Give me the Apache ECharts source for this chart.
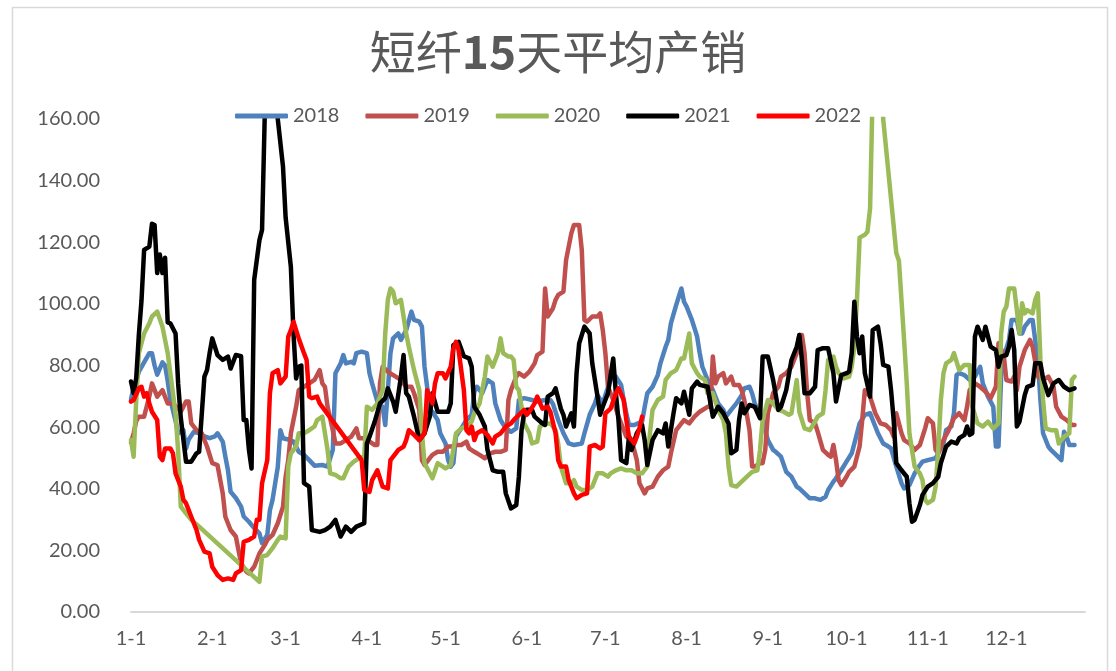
<!DOCTYPE html>
<html>
<head>
<meta charset="utf-8">
<title>短纤15天平均产销</title>
<script src="https://cdn.jsdelivr.net/npm/echarts@6/dist/echarts.min.js"></script>
<style>
  html, body { margin: 0; padding: 0; background: #ffffff; }
  #chart { width: 1116px; height: 671px; }
</style>
</head>
<body>
<div id="chart"></div>
<script>
// Month-start positions (day of year) and their labels on the horizontal axis
const monthStartDays = [0, 31, 59, 90, 120, 151, 181, 212, 243, 273, 304, 334];
const monthLabels = ['1-1', '2-1', '3-1', '4-1', '5-1', '6-1', '7-1', '8-1', '9-1', '10-1', '11-1', '12-1'];

const seriesNames = ['2018', '2019', '2020', '2021', '2022'];

// 15-day average sell-through, as [day of year, value]
const sales2018 = [[0,69],[1,73],[2,75],[3,78],[5,81],[7,84],[8,84],[9,80],[10,77],[12,81],[13,80],[14,75],[15,69],[17,62],[18,58],[20,59],[21,53],[22,56],[24,58.5],[26,58],[28,57],[30,56.4],[32,57],[33,58],[35,55.3],[36,50.4],[37,46],[38,39],[40,37],[42,34.2],[43,31],[45,29.3],[47,27.2],[49,25.5],[50,22.3],[52,25],[53,33],[54,36.4],[56,47],[57,59],[58,56.4],[60,56],[62,55.3],[64,52],[66,51],[68,49.3],[70,47.5],[73,47.7],[75,47.2],[77,52.6],[78,77.5],[80,80.7],[81,83.4],[82,80.7],[84,81.2],[85,80.7],[86,84],[88,84.5],[90,84],[91,77.5],[92,74.2],[94,68.3],[96,66.6],[97,60.7],[98,72],[99,84],[100,88.8],[102,90.4],[103,88.3],[105,91.5],[107,97.5],[108,94.8],[110,94.2],[111,92.6],[112,79.6],[113,73],[114,65.6],[115,65],[117,62.3],[118,58],[120,54.7],[121,49.3],[122,47.2],[123,48.3],[124,57],[126,59.6],[128,62.3],[130,64],[131,71.5],[132,73.1],[134,71],[136,75.3],[138,74.2],[139,67.7],[141,62.3],[143,59.6],[145,58.5],[147,59.6],[148,68.8],[150,69.4],[153,68.8],[155,68.3],[158,68.8],[160,68.8],[161,67.5],[163,62.3],[165,58],[167,54.7],[169,54.2],[172,54.7],[173,58],[175,64],[177,67.7],[178,70.4],[180,67.7],[181,70.4],[183,75.3],[185,76.4],[187,73.7],[188,68.8],[189,64.5],[190,60.7],[192,60.7],[195,61.8],[196,66.6],[197,71],[199,73.1],[201,76.9],[202,80.7],[204,86.1],[205,88.3],[206,93.7],[208,99.6],[209,102.3],[210,105],[211,100.7],[212,99.1],[214,94.8],[216,89.4],[217,84],[218,79.6],[220,75.3],[222,72],[224,67.7],[226,65.6],[227,63.4],[229,65.6],[231,67.7],[233,70.4],[234,72.6],[236,73.1],[237,70.9],[238,67.7],[240,64],[241,62.3],[242,59],[243,55.8],[245,52.6],[246,52],[248,50.4],[250,45.5],[252,43.9],[254,40.7],[255,40.1],[257,38.5],[259,36.9],[261,36.9],[263,36.4],[265,37.4],[266,39.6],[268,42.3],[269,43.4],[271,46],[273,48.8],[275,51.5],[276,54.7],[278,61.2],[280,64],[282,64.5],[283,62.3],[285,58],[287,54.7],[289,53.7],[290,53.1],[292,47.2],[294,41.8],[295,40.1],[297,41.2],[299,45],[301,47.7],[302,48.8],[304,49.3],[307,49.9],[308,51.5],[310,54.7],[311,59],[313,60.2],[314,64.5],[315,76.9],[316,77.5],[318,76.9],[320,75.3],[322,76.4],[324,79.6],[325,74.2],[327,69.9],[329,66.6],[330,53.7],[331,53.7],[332,76.4],[333,82.9],[335,88.3],[336,94.8],[338,94.8],[339,90.4],[340,90.4],[341,92.6],[343,94.8],[344,94.8],[346,81.8],[347,68.8],[348,58],[350,53.7],[351,52.6],[353,51],[355,49.3],[356,58.5],[357,56.9],[358,54.2],[360,54.2]];

const sales2019 = [[0,55],[1,58],[2,62],[3,63.4],[5,63.4],[7,70],[8,74.2],[10,69.9],[12,72],[14,67.7],[16,67.7],[19,65],[21,68.3],[22,68.3],[23,61.2],[25,59],[27,58],[29,53.7],[31,48.3],[33,47.7],[35,38.5],[36,30.9],[38,26.6],[40,24.5],[42,15.8],[44,13.1],[45,12.5],[47,14.7],[49,19],[51,21.7],[52,23.4],[54,25],[56,28.8],[58,34.2],[59,43.9],[60,49.3],[61,58],[63,66.6],[64,72],[66,73.1],[68,74.2],[70,75.3],[72,78.5],[73,74.2],[74,73.1],[75,66.6],[77,59],[78,54.7],[80,54.7],[82,55.8],[84,56.9],[86,59.6],[87,56.4],[89,56.4],[91,55.3],[93,54.2],[94,54.2],[95,74.2],[96,79.6],[98,78],[100,76.9],[101,76.4],[103,75.3],[105,73.1],[107,73.1],[108,71],[110,65.6],[111,49.3],[112,47.7],[114,49.9],[115,51],[117,52],[119,52],[121,53.7],[122,53.7],[124,54.2],[126,54.2],[128,55.3],[129,53.1],[131,52],[133,51],[135,49.9],[137,51.5],[139,52],[141,52],[143,52.6],[144,68.8],[145,72],[147,76.4],[148,77.5],[150,76.4],[152,78],[154,80.7],[155,83.4],[157,84.5],[158,105],[159,95.9],[161,98.6],[162,101.3],[163,102.9],[165,104],[166,114.2],[168,122.9],[169,125.6],[171,125.6],[172,117.5],[173,94.8],[174,94.2],[176,95.9],[178,95.9],[179,96.9],[180,91.5],[181,84],[182,73.1],[184,68.8],[186,63.4],[189,56.9],[191,55.8],[193,49.3],[194,41.8],[196,38.5],[197,40.1],[199,40.7],[201,43.9],[203,46],[205,47.2],[206,51.5],[208,59],[210,61.2],[211,62.3],[213,61.2],[215,63.4],[217,65],[220,66.6],[221,66.6],[222,82.9],[223,74.2],[224,76.4],[226,77.5],[227,74.2],[229,76.4],[230,73.7],[232,73.7],[233,72],[234,68.8],[236,59],[237,47.2],[238,47.2],[240,48.3],[241,48.3],[242,52.6],[243,64.5],[245,71],[247,73.1],[248,76.4],[250,77.5],[252,79.6],[254,84],[255,89.9],[256,89.9],[257,84],[258,71],[259,62.3],[261,61.2],[262,58.5],[264,52.6],[266,51],[267,50.4],[268,54.2],[269,49.3],[270,42.8],[271,41.2],[273,43.9],[274,45.5],[276,47.2],[278,53.7],[279,62.3],[280,72],[282,69.9],[284,64.5],[286,61.2],[288,60.7],[290,59],[291,56.9],[292,64.5],[294,58],[295,55.8],[297,54.7],[299,52.6],[301,54.2],[303,59.6],[304,62.9],[306,61.2],[307,52.6],[308,51.5],[310,55.8],[312,59],[314,62.9],[316,64.5],[318,62.3],[319,66.6],[320,72],[322,74.2],[324,73.1],[326,71.5],[328,69.4],[330,73.1],[331,87.2],[333,83.4],[334,75.3],[336,74.8],[337,76.4],[338,72],[339,79.6],[341,85],[343,88.3],[344,86.1],[346,76.4],[348,75.3],[350,76.4],[352,73.1],[353,66.6],[355,63.4],[357,62.3],[359,60.7],[360,60.7]];

const sales2020 = [[0,55.8],[1,50.4],[2,68.8],[3,84],[5,90.4],[7,93.7],[8,95.9],[10,97.5],[12,92.6],[13,88.3],[14,84],[15,77.5],[17,64.5],[18,52],[19,34.2],[21,32],[23,29.9],[26,27.7],[49,9.8],[50,18],[52,18.5],[54,20.7],[56,23.4],[57,24.5],[59,23.9],[60,47.2],[61,51.5],[63,53.7],[64,58],[66,58],[68,59],[70,60.2],[71,62.3],[73,63.4],[75,52.6],[76,45],[78,44.5],[80,43.4],[81,43.4],[83,47.2],[85,48.8],[87,49.9],[89,50.4],[90,66.6],[92,65.6],[94,67.7],[96,72],[97,90.4],[98,101.3],[99,105],[100,104],[101,100.2],[103,101.3],[105,90.4],[106,86.1],[108,78.5],[110,72],[111,58],[112,48.3],[114,45],[115,43.4],[117,48.3],[119,47.2],[120,46.6],[122,47.7],[124,58],[126,59.6],[128,60.2],[130,61.8],[131,64.5],[133,67.7],[135,76.4],[136,82.9],[138,79.6],[140,84],[141,88.8],[142,84],[144,82.9],[145,82.9],[146,81.8],[147,73.1],[148,72],[150,61.2],[152,58],[153,54.7],[155,55.3],[156,60.2],[158,61.2],[160,61.2],[162,59],[163,54.7],[164,47.2],[166,41.8],[168,41.8],[169,42.8],[170,40.7],[172,39.6],[174,39.6],[176,40.7],[178,45],[180,45],[182,43.9],[183,45],[185,46],[187,46.6],[189,46],[191,46],[193,45],[195,45],[197,47.2],[198,58],[199,65.6],[201,68.8],[203,69.9],[204,75.3],[206,77.5],[208,78.5],[210,82.3],[211,82.3],[213,90.4],[214,80.7],[216,77.5],[217,76.4],[219,75.3],[220,71],[222,71],[224,65.6],[226,62.3],[227,58],[228,47.2],[229,41.2],[231,40.7],[233,42.3],[235,43.9],[237,45.5],[239,46],[240,52.6],[241,62.3],[243,68.8],[245,67.7],[247,65.6],[249,65],[251,64],[252,64.5],[254,75.3],[255,65],[257,59.6],[259,59],[261,61.8],[262,63.4],[264,64.5],[265,72],[266,81.8],[268,82.9],[269,79.6],[270,77.5],[272,75.8],[274,76.4],[275,79.6],[276,86.1],[277,101.3],[278,121.5],[280,122.4],[281,123.4],[282,131],[283,170],[284,185],[286,185],[287,160],[290,134],[292,116.5],[293,114],[294,101],[295,88],[296,74.2],[297,58],[299,47.2],[301,45],[302,42.8],[303,36.4],[304,35.3],[306,36.4],[307,40.7],[308,52.6],[309,68.8],[310,77.5],[311,80.7],[313,81.8],[314,84],[316,78.5],[318,80.2],[320,80.2],[321,66.6],[323,61.2],[325,60.2],[327,61.8],[329,59.6],[331,61.2],[332,90.4],[333,97.5],[334,99.1],[335,105],[337,105],[338,98],[339,90.4],[340,100.2],[341,96.9],[342,98],[344,96.9],[345,101.3],[346,103.4],[347,81.8],[348,68.8],[349,59.6],[351,59],[353,59],[354,54.7],[356,56.9],[358,58],[359,75.3],[360,76.4]];

const sales2021 = [[0,74.8],[1,71],[2,76],[3,90],[4,101],[5,117.5],[7,118.6],[8,126],[9,125.6],[10,110],[11,116],[12,110],[13,115],[14,94],[15,93.7],[17,90.4],[18,74],[19,63],[21,48.8],[23,48.8],[25,51.5],[26,52],[28,76.4],[29,78.5],[30,84],[31,88.8],[33,83.4],[35,81.8],[37,82.9],[38,79],[40,83.4],[42,83],[43,62.3],[44,62.3],[45,52.6],[46,46.6],[47,107.8],[49,120.7],[50,124],[51,160],[52,185],[55,185],[56,160],[58,144.5],[59,128],[61,112],[62,90.4],[63,75.8],[64,79.6],[65,80],[66,41.8],[68,40.7],[69,26.6],[72,26],[74,26.6],[76,27.7],[78,29.9],[80,24.5],[82,27.7],[84,26],[86,27.7],[89,28.8],[90,54.7],[91,56.9],[93,61.8],[95,67.7],[97,69.4],[98,72.6],[100,68.3],[101,65],[103,76.4],[104,83.4],[105,71],[106,69.9],[108,63.4],[110,55.8],[112,58],[114,63.4],[115,71],[117,65],[121,65],[122,67.7],[123,86.6],[125,87.7],[127,83],[129,82.3],[130,79.6],[131,66.6],[133,64],[135,60.2],[136,52.6],[138,46],[140,45.5],[142,45.5],[143,38.5],[145,33.6],[147,34.7],[148,43.9],[149,59],[150,64.5],[151,65.6],[153,65.6],[154,63.4],[157,61.2],[158,60.7],[159,69.9],[161,71],[162,72.6],[164,66],[165,64],[166,60.2],[168,64.5],[169,60.2],[170,77.5],[171,87.2],[173,92.6],[175,90.4],[176,80.7],[178,69.9],[179,64],[180,66.6],[182,71],[183,76.9],[184,82.3],[185,71],[186,62.3],[187,49.3],[189,48.3],[190,57],[191,52.6],[193,58],[195,60.7],[196,55.8],[197,47.7],[199,55.8],[201,59],[203,58],[204,61.2],[205,53.7],[207,64.5],[208,69.4],[210,67.7],[211,71.5],[213,64],[214,72.6],[216,74.8],[217,73.7],[220,73.1],[222,63.4],[224,66.6],[226,64.5],[228,61.2],[229,51.5],[231,52.6],[232,62.3],[233,67.7],[234,64.5],[236,67.2],[238,66.6],[240,62.9],[241,82.9],[243,82.9],[245,75.3],[247,65.6],[248,66.6],[250,72],[252,81.8],[254,86.1],[255,89.9],[256,81.8],[257,71],[259,71],[261,73.1],[262,85],[264,85.6],[266,85.6],[268,77.5],[269,68.3],[271,76.9],[273,77.5],[274,78],[275,84],[276,100.7],[277,89.4],[278,84],[279,89.4],[280,77.5],[282,69.9],[283,91.5],[285,92.6],[286,87.2],[287,80.2],[289,79.6],[290,72],[291,62.3],[292,48.3],[294,46],[296,43.9],[297,35.3],[298,29.3],[299,29.9],[301,34.7],[302,38],[304,40.7],[306,41.8],[308,43.9],[309,48.3],[310,51],[311,53.7],[313,55.3],[315,54.7],[316,56.4],[318,57.5],[319,60.2],[320,57.5],[321,58],[322,89.4],[323,92.6],[325,88.3],[326,92.6],[328,86.1],[330,85],[331,79.6],[332,82.9],[334,83.4],[335,86.1],[336,91.5],[337,85],[338,60.2],[339,61.8],[341,70.4],[342,73.1],[344,73.7],[345,80.7],[347,80.7],[348,75.8],[350,70.4],[352,74.2],[354,75.3],[356,73.1],[358,72],[360,72.6]];

const sales2022 = [[0,68.3],[1,68.8],[3,72.6],[4,73.1],[5,69.9],[6,71],[7,67.7],[8,65],[10,62.3],[11,50.4],[12,49.3],[13,53.1],[15,53.1],[16,51.5],[17,45],[19,40.7],[20,36.4],[21,35.3],[23,30.9],[25,26.6],[26,23.4],[28,19.6],[30,19],[31,14.7],[33,12],[35,10.4],[37,10.9],[39,10.4],[40,12.5],[42,13.6],[43,22.8],[45,23.4],[47,24.5],[48,29.9],[49,29.9],[50,41.8],[52,49.3],[53,71],[54,77.5],[56,78.5],[57,74.2],[59,76.4],[60,89.4],[61,91.5],[62,94.2],[63,91.5],[64,88.8],[66,84],[67,81.8],[68,69.9],[69,69.4],[71,69.9],[72,67.7],[88,49.3],[89,39.6],[91,39],[92,42.8],[94,46],[96,40.7],[98,40.1],[99,49.3],[101,51.5],[102,52.6],[104,53.7],[105,55.8],[106,59],[108,57.5],[110,55.8],[112,58],[113,72],[115,67.7],[116,74.2],[117,77.5],[119,77.5],[120,75.8],[122,79.6],[123,85.6],[124,87.7],[125,85],[127,72],[128,59],[129,58],[130,60.2],[131,55.8],[132,58],[134,59],[136,57.5],[138,54.7],[139,56.9],[141,58],[143,60.2],[145,61.2],[146,62.3],[148,64],[150,65.6],[151,64],[152,65],[154,67.7],[155,69.9],[157,66],[159,66.6],[160,65],[162,58],[163,49.3],[164,47.2],[166,47.2],[167,42.8],[169,38.5],[170,36.9],[172,38],[174,38.5],[175,53.7],[177,54.2],[179,53.1],[180,53.7],[181,64.5],[183,66],[185,71],[186,72.6],[188,68.8],[189,62.3],[190,56.9],[192,54.7],[193,56.9],[194,59.6],[195,63.4]];

const seriesData = [sales2018, sales2019, sales2020, sales2021, sales2022];
const seriesColors = ['#4F81BD', '#C0504D', '#9BBB59', '#000000', '#FF0000'];

const textColor = '#595959';
const latin = 'Lato, "Liberation Sans", sans-serif';

const chart = echarts.init(document.getElementById('chart'), null, { renderer: 'canvas' });

chart.setOption({
  animation: false,
  backgroundColor: '#ffffff',
  graphic: [{
    type: 'rect',
    left: 10, top: 5,
    shape: { width: 1095, height: 700 },
    style: { fill: 'none', stroke: '#D9D9D9', lineWidth: 1.5 },
    silent: true
  }],
  title: {
    text: '{a|短纤}{b|15}{a|天平均产销}',
    left: 'center',
    top: 24,
    textStyle: {
      fontWeight: 'normal',
      rich: {
        a: { fontFamily: '"Noto Sans CJK SC"', fontSize: 46, fontWeight: 'normal', color: textColor },
        b: { fontFamily: '"Noto Sans CJK SC"', fontSize: 46, fontWeight: 'bold', color: textColor }
      }
    }
  },
  legend: {
    data: seriesNames,
    left: 230,
    top: 101,
    icon: 'roundRect',
    itemWidth: 53,
    itemHeight: 5,
    itemGap: 26,
    textStyle: { fontFamily: latin, fontSize: 20, color: textColor }
  },
  grid: { left: 131, right: 31, top: 119, bottom: 59, containLabel: false },
  xAxis: {
    type: 'value',
    min: 0,
    max: 364,
    axisLine: { show: true, lineStyle: { color: '#D9D9D9', width: 2 } },
    axisTick: { show: false },
    splitLine: { show: false },
    axisLabel: {
      customValues: monthStartDays,
      formatter: (v) => monthLabels[monthStartDays.indexOf(v)] || '',
      fontFamily: latin,
      fontSize: 20,
      color: textColor,
      margin: 17
    }
  },
  yAxis: {
    type: 'value',
    min: 0,
    max: 160,
    interval: 20,
    axisLine: { show: false },
    axisTick: { show: false },
    splitLine: { show: false },
    axisLabel: {
      formatter: (v) => v.toFixed(2),
      fontFamily: latin,
      fontSize: 20,
      color: textColor,
      margin: 31
    }
  },
  series: seriesNames.map((name, i) => ({
    name: name,
    type: 'line',
    data: seriesData[i],
    showSymbol: false,
    symbol: 'none',
    clip: true,
    color: seriesColors[i],
    lineStyle: { color: seriesColors[i], width: 4.5, cap: 'round', join: 'round' },
    emphasis: { disabled: true }
  }))
});
</script>
</body>
</html>
